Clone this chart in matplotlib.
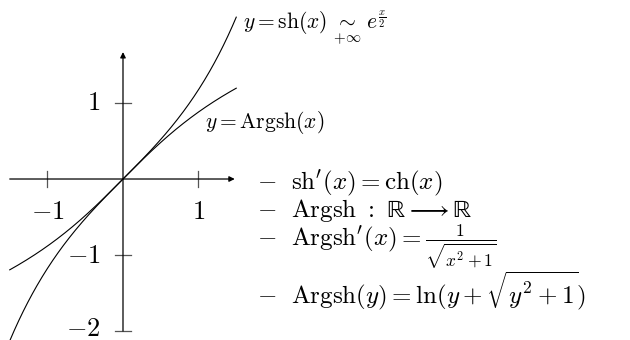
import numpy as np
import matplotlib
matplotlib.use("Agg")
import matplotlib.pyplot as plt

plt.rcParams["font.family"] = ["DejaVu Serif"]
plt.rcParams["mathtext.fontset"] = "cm"

# domain of both curves and axis ticks
x_domain = np.linspace(-1.5, 1.5, 301)
x_ticks = [-1, 1]
y_ticks = [1, -1, -2]
x_tick_labels = [r"$-1$", r"$1$"]
y_tick_labels = [r"$1$", r"$-1$", r"$-2$"]

facts = [
    r"$\mathrm{-}\ \ \mathrm{sh}'(x) = \mathrm{ch}(x)$",
    r"$\mathrm{-}\ \ \mathrm{Argsh}\ :\ \mathrm{ℝ} \longrightarrow \mathrm{ℝ}$",
    r"$\mathrm{-}\ \ \mathrm{Argsh}'(x) = \frac{1}{\sqrt{x^2+1}}$",
    r"$\mathrm{-}\ \ \mathrm{Argsh}(y) = \ln(y + \sqrt{y^2+1})$",
]
facts_y = [-0.13, -0.5, -0.88, -1.64]

fig = plt.figure(figsize=(6.3, 3.4), dpi=100)
ax = fig.add_axes([0, 0, 1, 1])
ax.set_xlim(-1.629, 6.715)
ax.set_ylim(-2.118, 2.355)
ax.axis("off")

# axes with arrow heads
arrow = dict(arrowstyle="-|>", lw=0.9, color="black", mutation_scale=8,
             shrinkA=0, shrinkB=0)
ax.annotate("", xy=(1.48, 0), xytext=(-1.5, 0), arrowprops=arrow)
ax.annotate("", xy=(0, 1.67), xytext=(0, -2), arrowprops=arrow)

for t, lab in zip(x_ticks, x_tick_labels):
    ax.plot([t, t], [-0.1, 0.1], color="#555555", lw=0.9)
    ax.text(t, -0.43, lab, ha="center", va="center", fontsize=19)
for t, lab in zip(y_ticks, y_tick_labels):
    ax.plot([-0.1, 0.1], [t, t], color="#555555", lw=0.9)
    # keep the lowest label inside the frame
    ax.text(-0.3, max(t, -1.97), lab, ha="right", va="center", fontsize=19)

ax.plot(x_domain, np.sinh(x_domain), color="black", lw=0.8)
ax.plot(x_domain, np.arcsinh(x_domain), color="black", lw=0.8)

ax.text(1.59, 1.96, r"$y = \mathrm{sh}(x)\ \underset{+\infty}{\sim}\ e^{\frac{x}{2}}$",
        ha="left", va="baseline", fontsize=15.5)
ax.text(1.09, 0.67, r"$y = \mathrm{Argsh}(x)$", ha="left", va="baseline", fontsize=15.5)

for s, y in zip(facts, facts_y):
    ax.text(1.775, y, s, ha="left", va="baseline", fontsize=18)

fig.savefig("out.png", dpi=100)
